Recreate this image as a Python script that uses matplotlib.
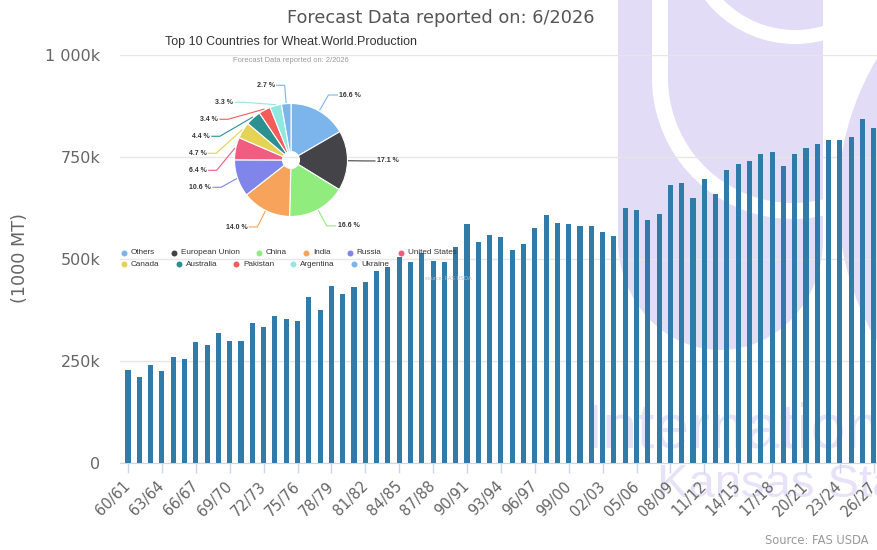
import numpy as np
import matplotlib.pyplot as plt
from matplotlib.patches import Rectangle, Ellipse, Wedge, Circle

W, H = 878, 550  # figure size in pixels (dpi 100)

# world wheat production, 1000 MT, marketing years 60/61 .. 26/27
seasons = [f"{(1960 + i) % 100:02d}/{(1961 + i) % 100:02d}" for i in range(67)]
production = [229, 212, 240, 225, 259, 255, 296, 288, 319, 300,
              300, 342, 334, 360, 353, 349, 408, 375, 435, 413,
              431, 443, 470, 480, 506, 492, 515, 495, 492, 529,
              586, 541, 559, 555, 521, 536, 577, 608, 589, 586,
              580, 580, 567, 556, 626, 619, 596, 611, 682, 686,
              650, 697, 660, 717, 732, 739, 757, 763, 727, 757,
              773, 781, 791, 791, 798, 843, 822]
ytick_vals = [0, 250, 500, 750, 1000]
ytick_labels = ["0", "250k", "500k", "750k", "1 000k"]

# inset pie: top 10 countries share
countries = ["Others", "European Union", "China", "India", "Russia", "United States",
             "Canada", "Australia", "Pakistan", "Argentina", "Ukraine"]
shares = [16.6, 17.1, 16.6, 14.0, 10.6, 6.4, 4.7, 4.4, 3.4, 3.3, 2.7]
pie_colors = ["#7cb5ec", "#434348", "#90ed7d", "#f7a35c", "#8085e9", "#f15c80",
              "#e4d354", "#2b908f", "#f45b5b", "#91e8e1", "#7cb5ec"]

lavender = "#e2dcf7"
bar_color = "#2f7cab"
grey = "#666666"

fig = plt.figure(figsize=(W / 100, H / 100), dpi=100)

# background watermark, pixel coordinates
bg = fig.add_axes([0, 0, 1, 1], zorder=0)
bg.set_xlim(0, W)
bg.set_ylim(H, 0)
bg.axis("off")
bg.add_patch(Rectangle((618, 0), 205, 240, color=lavender, lw=0))
bg.add_patch(Ellipse((720.5, 240), 205, 220, color=lavender, lw=0))
bg.add_patch(Rectangle((652, 0), 16, 78, color="white", lw=0))
bg.add_patch(Wedge((793, 78), 141, 30, 180, width=16, color="white", lw=0))
bg.add_patch(Wedge((795, -70), 114, 0, 180, width=14, color="white", lw=0))
bg.add_patch(Circle((1114, 200), 276, color=lavender, lw=0))
bg.text(585, 447, "International", fontsize=45, color="#e7e2f8", va="baseline",
        family="Liberation Sans")
bg.text(657, 497, "Kansas State", fontsize=34, color="#e7e2f8", va="baseline",
        family="Liberation Sans")

# main bar chart
ax = fig.add_axes([120 / W, (H - 463) / H, (W - 120) / W, (463 - 55) / H], zorder=2)
ax.set_facecolor("none")
x = np.arange(len(production))
ax.bar(x, production, width=0.45, color=bar_color, zorder=3)
ax.set_xlim(-0.71, 66.37)
ax.set_ylim(0, 1000)
ax.set_yticks(ytick_vals)
ax.set_yticklabels(ytick_labels)
ax.set_xticks(x[::3])
ax.set_xticklabels(seasons[::3], rotation=45, ha="right", va="center",
                   rotation_mode="anchor")
ax.grid(axis="y", color="#e6e6e6", lw=1, zorder=0)
for s in ["top", "right", "left"]:
    ax.spines[s].set_visible(False)
ax.spines["bottom"].set_color("#ccd6eb")
ax.tick_params(axis="y", length=0, pad=14, labelsize=11.5, labelcolor=grey)
ax.tick_params(axis="x", length=7, width=1, color="#ccd6eb", pad=8,
               labelsize=10.5, labelcolor=grey)

fig.text(441 / W, 1 - 18 / H, "Forecast Data reported on: 6/2026", ha="center",
         va="center", fontsize=12.8, color="#555555")
fig.text(20 / W, 1 - 258 / H, "(1000 MT)", rotation=90, ha="center", va="center",
         fontsize=12.7, color=grey)
fig.text(765 / W, 1 - 541 / H, "Source: FAS USDA", ha="left", va="center",
         fontsize=8.3, color="#999999")

# inset overlay, pixel coordinates
ov = fig.add_axes([0, 0, 1, 1], zorder=3)
ov.set_facecolor("none")
ov.set_xlim(0, W)
ov.set_ylim(H, 0)
ov.axis("off")
inset_font = "Liberation Sans"
ov.text(291, 42, "Top 10 Countries for Wheat.World.Production", ha="center",
        va="center", fontsize=9, color="#333333", family=inset_font)
ov.text(291, 60, "Forecast Data reported on: 2/2026", ha="center", va="center",
        fontsize=5.4, color="#999999", family=inset_font)
ov.text(448, 278, "source: FAS USDA", ha="center", va="center", fontsize=4,
        color="#bbbbbb", family=inset_font)

cx, cy, R = 291, 160, 56.5
pax = fig.add_axes([(cx - R) / W, 1 - (cy + R) / H, 2 * R / W, 2 * R / H], zorder=4)
pax.pie(shares, colors=pie_colors, startangle=90, counterclock=False, radius=1,
        wedgeprops=dict(width=0.85, edgecolor="white", linewidth=0.8))
pax.set_xlim(-1, 1)
pax.set_ylim(-1, 1)

# data labels with connectors, stacked like highcharts
fr = np.array(shares) / sum(shares)
mids = (np.cumsum(fr) - fr / 2) * 2 * np.pi
lab_r = 75
gap = 17
items = []
for i, th in enumerate(mids):
    items.append([i, th, cy - lab_r * np.cos(th), np.sin(th) >= 0])
left = sorted([it for it in items if not it[3]], key=lambda it: it[2])
prev = -1e9
for it in left:
    it[2] = max(it[2], prev + gap)
    prev = it[2]
for i, th, ly, right in items:
    dy = ly - cy
    dx = np.sqrt(max(lab_r ** 2 - dy ** 2, 0))
    bx = cx + dx if right else cx - dx
    tx = bx + 11 if right else bx - 10
    ex, ey = cx + (R + 1) * np.sin(th), cy - (R + 1) * np.cos(th)
    lx = tx - 2 if right else tx + 2
    ov.plot([lx, bx, ex], [ly, ly, ey], color=pie_colors[i], lw=0.8)
    ov.text(tx, ly, f"{shares[i]:.1f} %", ha="left" if right else "right",
            va="center", fontsize=5, fontweight="bold", color="#333333",
            family=inset_font)

# legend, flowing rows
renderer = fig.canvas.get_renderer()
lx0, lx, ly = 124, 124, 253
for name, col in zip(countries, pie_colors):
    t = ov.text(lx + 7, ly, name, va="center", fontsize=5.9, color="#333333",
                family=inset_font)
    w = t.get_window_extent(renderer).width
    if lx + 7 + w > 472:
        t.remove()
        lx, ly = lx0, ly + 11
        t = ov.text(lx + 7, ly, name, va="center", fontsize=5.9, color="#333333",
                    family=inset_font)
        w = t.get_window_extent(renderer).width
    ov.plot(lx, ly, "o", ms=4.3, color=col, mec="none")
    lx = lx + 7 + w + 19

plt.savefig("out.png", dpi=100)
